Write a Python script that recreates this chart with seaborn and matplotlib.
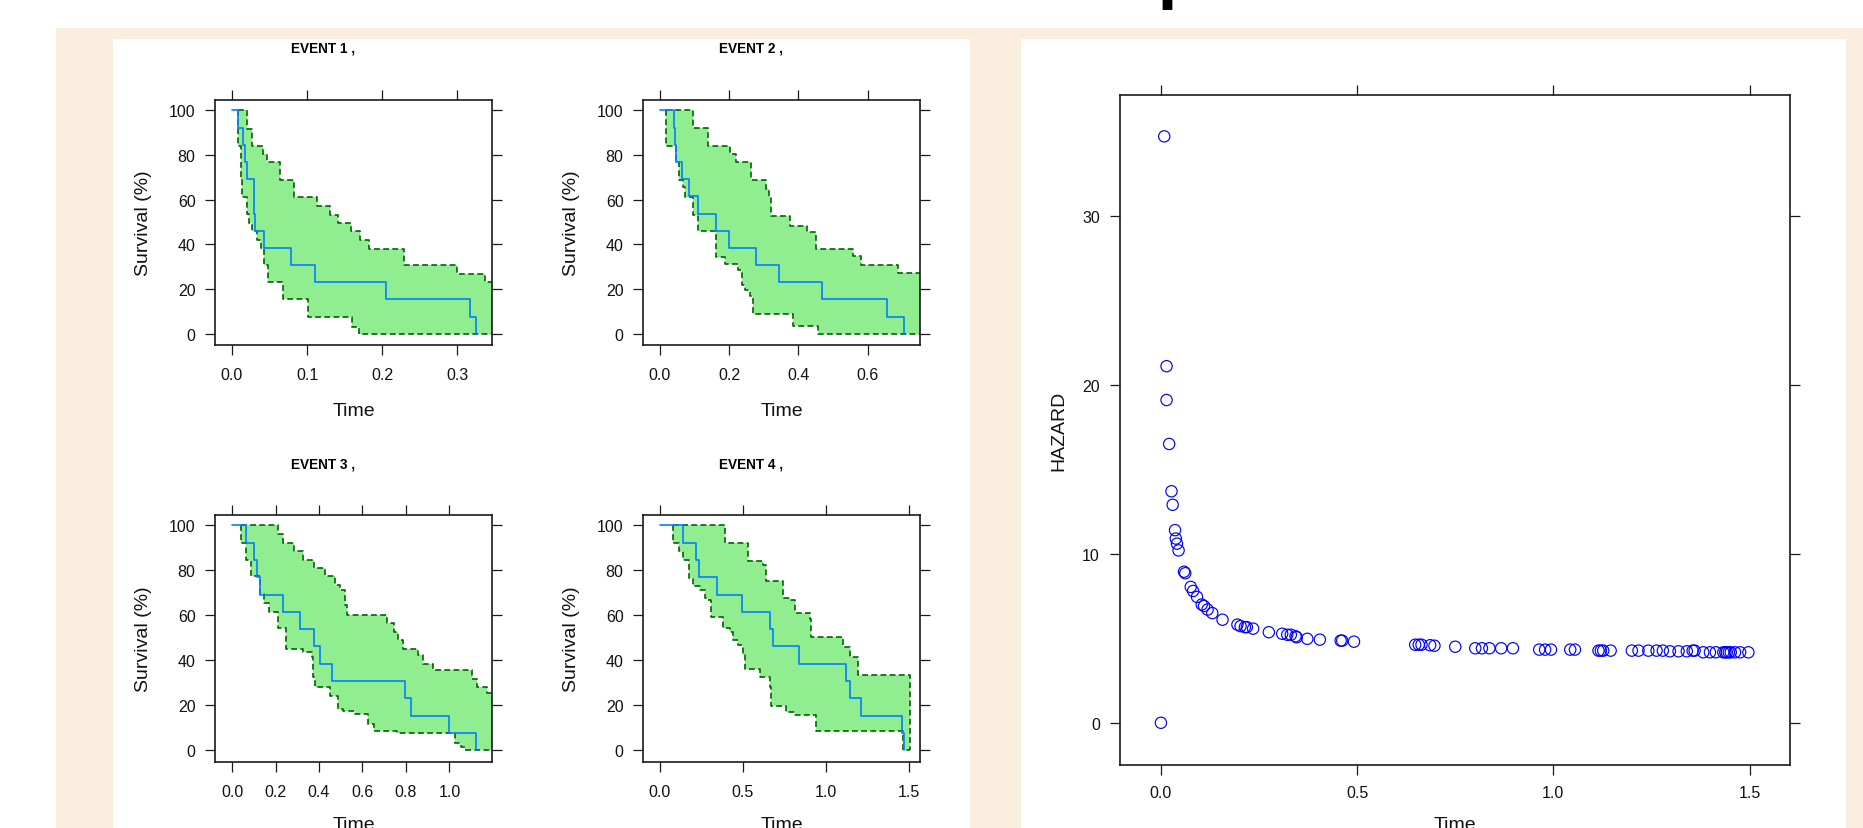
import numpy as np
import matplotlib
matplotlib.use("Agg")
import matplotlib.pyplot as plt
import seaborn as sns
from matplotlib.patches import Rectangle

# ---------------- data ----------------
# Event 1
e1_km_t = [0, 0.0080, 0.0151, 0.0173, 0.0204, 0.0293, 0.0306, 0.0426, 0.0785, 0.1099, 0.2052, 0.3169, 0.3240]
e1_km_s = [100, 92.3, 84.6, 76.9, 69.2, 53.8, 46.2, 38.5, 30.8, 23.1, 15.4, 7.7, 0]
e1_up_t = [0.0080, 0.0204, 0.0262, 0.0415, 0.046, 0.0638, 0.0829, 0.1126, 0.130, 0.1414, 0.158, 0.170, 0.182, 0.229, 0.300, 0.336]
e1_up_v = [100, 91.8, 84.2, 80.5, 76.7, 68.8, 61.0, 57.3, 53.3, 49.6, 45.8, 42.1, 37.9, 30.7, 26.8, 23.0]
e1_lo_t = [0.0080, 0.0115, 0.0137, 0.0204, 0.023, 0.027, 0.0337, 0.0381, 0.0426, 0.0474, 0.0683, 0.1015, 0.159, 0.169]
e1_lo_v = [84.2, 69.2, 61.0, 53.6, 49.6, 45.8, 42.1, 37.9, 30.9, 23.3, 15.5, 7.3, 2.8, 0]
e1_xlim = [-0.0222, 0.3455]
e1_end = 0.3455
e1_xticks = [0.0, 0.1, 0.2, 0.3]

# Event 2
e2_km_t = [0, 0.0404, 0.0443, 0.0472, 0.0626, 0.0847, 0.1098, 0.1618, 0.1993, 0.2763, 0.3447, 0.4679, 0.6557, 0.7038]
e2_km_s = [100, 92.3, 84.6, 76.9, 69.2, 61.5, 53.8, 46.2, 38.5, 30.8, 23.1, 15.4, 7.7, 0]
e2_up_t = [0.0183, 0.0953, 0.1387, 0.2032, 0.2186, 0.2619, 0.3052, 0.3148, 0.3216, 0.3745, 0.4246, 0.4516, 0.5575, 0.5815, 0.6875]
e2_up_v = [100, 91.9, 84.2, 80.4, 76.7, 68.8, 65.0, 61.0, 52.8, 48.3, 45.4, 37.9, 34.9, 30.7, 27.2]
e2_lo_t = [0.0183, 0.045, 0.055, 0.0664, 0.0712, 0.0953, 0.1098, 0.1608, 0.1877, 0.226, 0.236, 0.245, 0.260, 0.2695, 0.385, 0.457]
e2_lo_v = [84.2, 76.7, 68.8, 65.5, 61.2, 53.3, 46.2, 34.5, 31.0, 28.5, 22.0, 19.4, 17.0, 8.8, 3.6, 0]
e2_xlim = [-0.048, 0.751]
e2_end = 0.751
e2_xticks = [0.0, 0.2, 0.4, 0.6]

# Event 3
e3_km_t = [0, 0.0644, 0.0997, 0.1166, 0.1289, 0.2362, 0.3114, 0.3758, 0.405, 0.4617, 0.7977, 0.8222, 0.9971, 1.1213]
e3_km_s = [100, 92.3, 84.6, 76.9, 69.2, 61.5, 53.8, 46.2, 38.5, 30.8, 23.1, 15.4, 7.7, 0]
e3_up_t = [0.0414, 0.2132, 0.2362, 0.2869, 0.3283, 0.3789, 0.428, 0.474, 0.497, 0.520, 0.528, 0.712, 0.7455, 0.7655,
           0.7885, 0.8575, 0.8805, 0.9265, 1.103, 1.126, 1.172]
e3_up_v = [100, 96.0, 92.3, 88.5, 84.8, 81.1, 77.3, 73.6, 71.4, 64.6, 60.2, 56.4, 52.7, 49.0,
           45.2, 42.2, 38.5, 35.5, 31.8, 28.1, 25.4]
e3_lo_t = [0.0414, 0.0644, 0.0874, 0.130, 0.1473, 0.170, 0.2132, 0.247, 0.3283, 0.3666, 0.374, 0.382, 0.451, 0.489,
           0.512, 0.566, 0.627, 0.655, 0.758, 1.026, 1.054, 1.072]
e3_lo_v = [92.3, 84.8, 77.3, 69.4, 65.4, 61.4, 54.2, 45.2, 43.5, 41.5, 32.5, 28.1, 24.3, 18.4,
           17.5, 16.1, 11.6, 8.7, 7.5, 3.4, 1.5, 0]
e3_xlim = [-0.077, 1.196]
e3_end = 1.196
e3_xticks = [0.0, 0.2, 0.4, 0.6, 0.8, 1.0]

# Event 4
e4_km_t = [0, 0.1406, 0.2209, 0.237, 0.3454, 0.494, 0.6627, 0.6827, 0.8373, 1.1205, 1.1446, 1.2149, 1.4598, 1.4699]
e4_km_s = [100, 92.3, 84.6, 76.9, 69.2, 61.5, 53.8, 46.2, 38.5, 30.8, 23.1, 15.4, 7.7, 0]
e4_up_t = [0.0803, 0.3916, 0.532, 0.6225, 0.6426, 0.743, 0.783, 0.813, 0.9036, 0.9137, 1.1044, 1.1446, 1.1948, 1.506]
e4_up_v = [100, 92.0, 84.0, 82.5, 75.1, 67.6, 66.9, 60.9, 58.2, 50.2, 46.0, 41.5, 33.7, 0]
e4_lo_t = [0.0803, 0.1165, 0.1406, 0.1767, 0.2008, 0.241, 0.271, 0.291, 0.311, 0.3815, 0.4217, 0.4418, 0.472,
           0.502, 0.512, 0.602, 0.663, 0.673, 0.763, 0.813, 0.944, 1.467]
e4_lo_v = [92.0, 88.5, 84.8, 76.6, 73.1, 71.4, 67.6, 66.9, 59.4, 54.2, 52.7, 49.0, 46.7,
           42.2, 36.3, 32.5, 28.1, 19.9, 16.9, 15.8, 8.7, 0]
e4_xlim = [-0.099, 1.568]
e4_end = 1.506
e4_xticks = [0.0, 0.5, 1.0, 1.5]

surv_ylim = [-5.06, 104.5]
surv_yticks = [0, 20, 40, 60, 80, 100]
event_titles = ["EVENT 1 ,", "EVENT 2 ,", "EVENT 3 ,", "EVENT 4 ,"]

# Hazard panel
haz_t = [0.0, 0.0085, 0.0144, 0.0144, 0.021, 0.027, 0.030, 0.036, 0.038, 0.041, 0.045, 0.059, 0.062, 0.076,
         0.082, 0.092, 0.104, 0.110, 0.119, 0.131, 0.157, 0.195, 0.203, 0.214, 0.219, 0.235, 0.275, 0.309,
         0.322, 0.331, 0.343, 0.346, 0.373, 0.405, 0.458, 0.462, 0.492, 0.648, 0.657, 0.664, 0.686, 0.697,
         0.750, 0.801, 0.818, 0.837, 0.867, 0.897, 0.964, 0.979, 0.994, 1.043, 1.055, 1.115, 1.121, 1.127,
         1.146, 1.200, 1.217, 1.242, 1.263, 1.279, 1.297, 1.319, 1.340, 1.355, 1.360, 1.382, 1.399, 1.414,
         1.433, 1.438, 1.442, 1.447, 1.452, 1.463, 1.476, 1.497]
haz_v = [0.0, 34.7, 21.1, 19.1, 16.5, 13.7, 12.9, 11.4, 10.9, 10.6, 10.2, 8.94, 8.85, 8.04,
         7.80, 7.45, 7.00, 6.91, 6.70, 6.49, 6.10, 5.81, 5.72, 5.66, 5.66, 5.57, 5.36, 5.27,
         5.21, 5.21, 5.12, 5.06, 4.97, 4.92, 4.86, 4.86, 4.80, 4.62, 4.62, 4.62, 4.59, 4.56,
         4.50, 4.41, 4.41, 4.41, 4.41, 4.41, 4.33, 4.33, 4.33, 4.33, 4.33, 4.27, 4.27, 4.27,
         4.27, 4.27, 4.27, 4.27, 4.27, 4.27, 4.23, 4.23, 4.23, 4.27, 4.27, 4.17, 4.17, 4.17,
         4.17, 4.17, 4.17, 4.17, 4.17, 4.17, 4.17, 4.17]
haz_xlim = [-0.105, 1.603]
haz_ylim = [-2.48, 37.13]
haz_xticks = [0.0, 0.5, 1.0, 1.5]
haz_yticks = [0, 10, 20, 30]

# ---------------- style ----------------
sns.set_theme(style="ticks")
plt.rcParams["font.family"] = ["Liberation Sans", "DejaVu Sans"]

W, H = 1863, 829
fig = plt.figure(figsize=(W / 100, H / 100), dpi=100)
fig.patch.set_facecolor("white")


def fx(px):
    return px / W


def fy(py):
    return 1 - py / H


BEIGE = "#FAEEDF"
fig.add_artist(Rectangle((fx(56), 0), 1 - fx(56), fy(29.3), transform=fig.transFigure,
                         facecolor=BEIGE, edgecolor="none", zorder=-10))
fig.add_artist(Rectangle((fx(113), 0), fx(969.5) - fx(113), fy(40), transform=fig.transFigure,
                         facecolor="white", edgecolor="none", zorder=-9))
fig.add_artist(Rectangle((fx(1020.6), 0), fx(1845.5) - fx(1020.6), fy(40), transform=fig.transFigure,
                         facecolor="white", edgecolor="none", zorder=-9))
# cut-off page title glyph at the very top (only its descender is visible)
fig.text(fx(1157.5), fy(-2.0), "p", fontsize=40, fontweight="bold", family="DejaVu Sans",
         ha="left", va="baseline", color="black")

TXT = "#111111"
BOX = "#1a1a1a"


def make_ax(l, t, r, b):
    return fig.add_axes([fx(l), fy(b), (r - l) / W, (b - t) / H])


def style_ax(ax, l, t, r, b, xlab, ylab, ylab_dx, xlab_dy):
    ax.set_facecolor("white")
    for s in ax.spines.values():
        s.set_visible(True)
        s.set_color(BOX)
        s.set_linewidth(1.2)
    ax.tick_params(axis="both", which="major", direction="out", length=7.2, width=0.9,
                   top=True, right=True, bottom=True, left=True,
                   labeltop=False, labelright=False, labelbottom=True, labelleft=True,
                   labelsize=11.5, colors=BOX, labelcolor=TXT)
    ax.tick_params(axis="x", pad=8.5)
    ax.tick_params(axis="y", pad=7.0)
    w, h = r - l, b - t
    ax.set_xlabel(xlab, fontsize=14, color=TXT, va="baseline")
    ax.xaxis.set_label_coords(0.5, -xlab_dy / h)
    ax.set_ylabel(ylab, fontsize=14, color=TXT, va="center")
    ax.yaxis.set_label_coords(-ylab_dx / w, 0.5)
    ax.grid(False)


def step_eval(t, v, grid):
    t = np.asarray(t)
    v = np.asarray(v)
    idx = np.clip(np.searchsorted(t, grid, side="right") - 1, 0, len(t) - 1)
    return v[idx]


def draw_surv(ax, km_t, km_s, up_t, up_v, lo_t, lo_v, end):
    grid = np.unique(np.concatenate([up_t, lo_t, [end]]))
    up_g = step_eval(up_t, up_v, grid)
    lo_g = step_eval(lo_t, lo_v, grid)
    ax.fill_between(grid, lo_g, up_g, step="post", color="#90EE90", linewidth=0, zorder=1)
    ux = np.r_[up_t, end]
    uy = np.r_[up_v, up_v[-1]]
    lx = np.r_[lo_t[0], lo_t, end]
    ly = np.r_[100, lo_v, lo_v[-1]]
    for xx, yy in ((ux, uy), (lx, ly)):
        sns.lineplot(x=xx, y=yy, ax=ax, drawstyle="steps-post", estimator=None, sort=False,
                     color="#006400", linewidth=1.2, linestyle="--", zorder=2)
        ax.lines[-1].set_dashes((3.5, 2.0))
    sns.lineplot(x=np.asarray(km_t), y=np.asarray(km_s), ax=ax, drawstyle="steps-post",
                 estimator=None, sort=False, color="#0080FF", linewidth=1.2, zorder=3)


events = [
    (e1_km_t, e1_km_s, e1_up_t, e1_up_v, e1_lo_t, e1_lo_v, e1_end, e1_xlim, e1_xticks,
     (215.3, 101.3, 491.7, 346.0), 70.0, (323.0, 52.5)),
    (e2_km_t, e2_km_s, e2_up_t, e2_up_v, e2_lo_t, e2_lo_v, e2_end, e2_xlim, e2_xticks,
     (643.3, 101.3, 920.0, 346.0), 70.0, (750.8, 52.5)),
    (e3_km_t, e3_km_s, e3_up_t, e3_up_v, e3_lo_t, e3_lo_v, e3_end, e3_xlim, e3_xticks,
     (215.3, 516.3, 492.0, 762.7), 67.5, (323.3, 469.0)),
    (e4_km_t, e4_km_s, e4_up_t, e4_up_v, e4_lo_t, e4_lo_v, e4_end, e4_xlim, e4_xticks,
     (643.3, 516.3, 920.0, 762.7), 67.5, (750.8, 469.0)),
]

for i, (kt, ks, ut, uv, lt, lv, end, xl, xt, box, xdy, tpos) in enumerate(events):
    l, t, r, b = box
    ax = make_ax(l, t, r, b)
    draw_surv(ax, kt, ks, ut, uv, lt, lv, end)
    ax.set_xlim(*xl)
    ax.set_ylim(*surv_ylim)
    ax.set_xticks(xt)
    ax.set_xticklabels([f"{v:.1f}" for v in xt])
    ax.set_yticks(surv_yticks)
    ax.set_yticklabels([str(v) for v in surv_yticks])
    style_ax(ax, l, t, r, b, "Time", "Survival (%)", 72.0, xdy)
    fig.text(fx(tpos[0]), fy(tpos[1]), event_titles[i], fontsize=9.8, fontweight="bold",
             ha="center", va="baseline", color="black")

# hazard panel
hl, ht, hr, hb = 1119.7, 96.3, 1790.0, 765.7
hax = make_ax(hl, ht, hr, hb)
sns.scatterplot(x=np.asarray(haz_t), y=np.asarray(haz_v), ax=hax, marker="o", s=66, linewidth=0.8, zorder=3)
pc = hax.collections[-1]
pc.set_facecolor("none")
pc.set_edgecolor("#0000FF")
pc.set_linewidth(0.85)
hax.set_xlim(*haz_xlim)
hax.set_ylim(*haz_ylim)
hax.set_xticks(haz_xticks)
hax.set_xticklabels([f"{v:.1f}" for v in haz_xticks])
hax.set_yticks(haz_yticks)
hax.set_yticklabels([str(v) for v in haz_yticks])
style_ax(hax, hl, ht, hr, hb, "Time", "HAZARD", 61.2, 64.3)
hax.tick_params(axis="x", pad=7.5, labelsize=11.5)
hax.tick_params(axis="y", pad=7.0, labelsize=11.5)

fig.savefig("out.png", dpi=100, facecolor=fig.get_facecolor())
